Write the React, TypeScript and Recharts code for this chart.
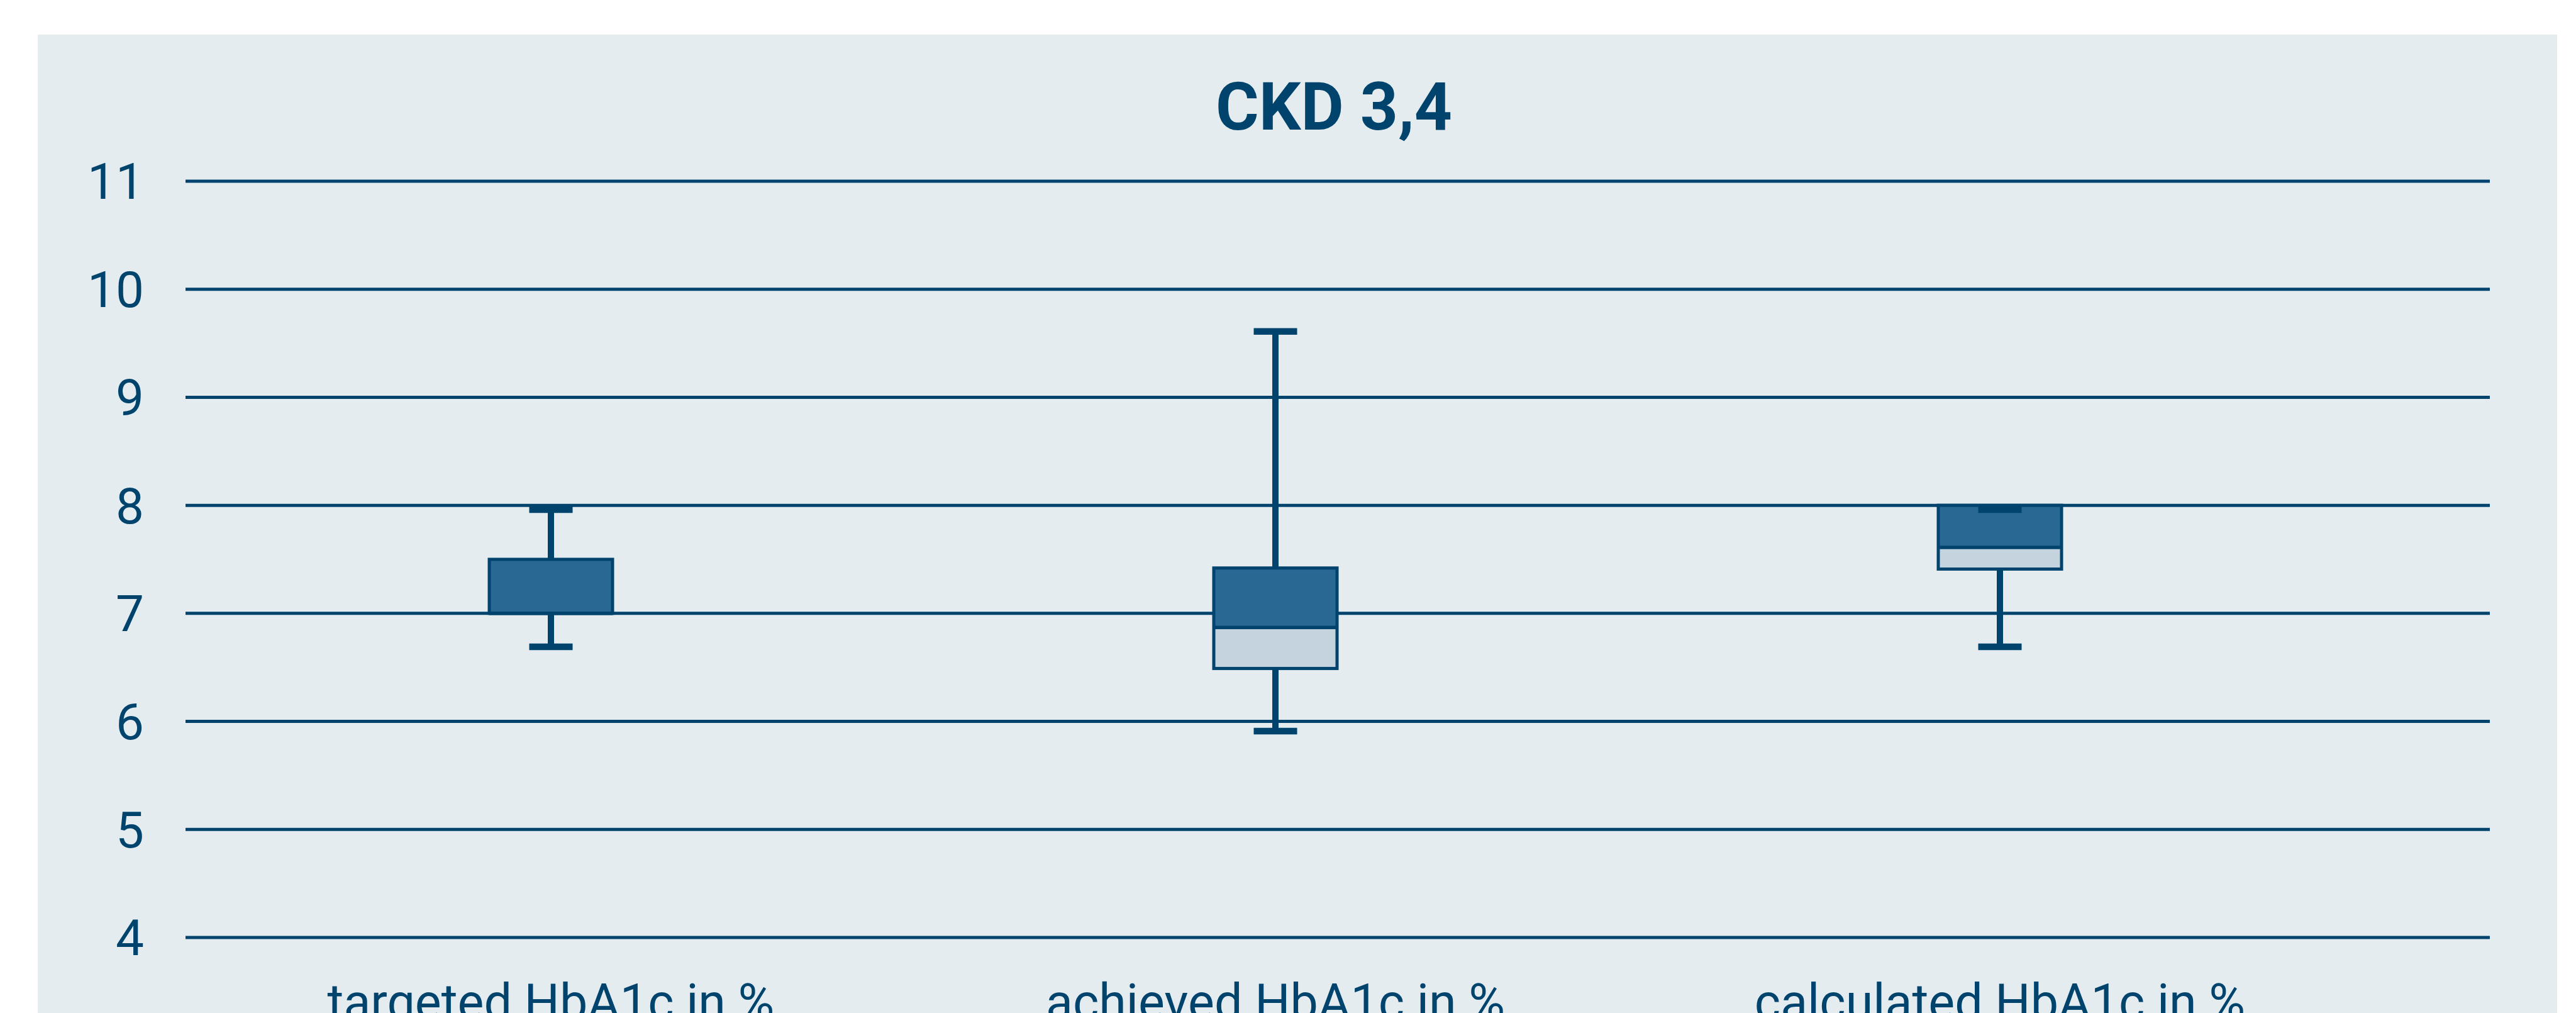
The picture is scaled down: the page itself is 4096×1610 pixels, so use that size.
import { BarChart, Bar, XAxis, YAxis, CartesianGrid } from 'recharts'

// HbA1c box plots, CKD stage 3/4
const title = 'CKD 3,4'
const categories = ['targeted HbA1c in %', 'achieved HbA1c in %', 'calculated HbA1c in %']
const whiskerLow = [6.69, 5.91, 6.69]
const quartile1 = [7.0, 6.49, 7.41]
const medians = [7.0, 6.87, 7.61]
const quartile3 = [7.5, 7.42, 8.0]
const whiskerHigh = [7.96, 9.61, 7.96]
const yTicks = [4, 5, 6, 7, 8, 9, 10, 11]

const INK = '#00446e'
const DARK = '#2a6894'
const LIGHT = '#c5d3df'
const PANEL = '#e4ecf0'
const FONT = 'Roboto, "Liberation Sans", Arial, sans-serif'

const data = categories.map((name, i) => ({
  name,
  min: whiskerLow[i],
  q1: quartile1[i],
  median: medians[i],
  q3: quartile3[i],
  max: whiskerHigh[i],
}))

// the bar spans min..max; the other stats are placed on the same linear scale
function BoxShape(props: any) {
  const { x, y, width, height, payload } = props
  if (!payload) return null
  const top = Math.min(y, y + height)
  const bottom = Math.max(y, y + height)
  const lo = payload.min
  const hi = payload.max
  const py = (v: number) => bottom - ((v - lo) / (hi - lo)) * (bottom - top)
  const cx = x + width / 2
  const capHalf = 34.5
  const yQ3 = py(payload.q3)
  const yMed = py(payload.median)
  const yQ1 = py(payload.q1)
  return (
    <g>
      <line x1={cx} x2={cx} y1={py(hi)} y2={py(lo)} stroke={INK} strokeWidth={10} />
      <rect x={x} y={yQ3} width={width} height={yMed - yQ3} fill={DARK} />
      <rect x={x} y={yMed} width={width} height={yQ1 - yMed} fill={LIGHT} />
      <rect x={x} y={yQ3} width={width} height={yQ1 - yQ3} fill="none" stroke={INK} strokeWidth={5} />
      <line x1={x} x2={x + width} y1={yMed} y2={yMed} stroke={INK} strokeWidth={5.5} />
      <line x1={cx - capHalf} x2={cx + capHalf} y1={py(hi)} y2={py(hi)} stroke={INK} strokeWidth={10.5} />
      <line x1={cx - capHalf} x2={cx + capHalf} y1={py(lo)} y2={py(lo)} stroke={INK} strokeWidth={10.5} />
    </g>
  )
}

export default function App() {
  return (
    <div style={{ position: 'absolute', left: 0, top: 0, width: 4096, height: 1610, background: '#fff', overflow: 'hidden' }}>
      <div style={{ position: 'absolute', left: 60, top: 55, width: 4006, height: 1555, background: PANEL }} />
      <svg style={{ position: 'absolute', left: 0, top: 0 }} width={4096} height={300}>
        <text x={2121} y={206} textAnchor="middle" fill={INK} fontFamily={FONT} fontWeight={700} fontSize={105}>
          {title}
        </text>
      </svg>
      <div style={{ position: 'absolute', left: 0, top: 0 }}>
        <BarChart
          width={4096}
          height={1610}
          data={data}
          margin={{ top: 288, right: 137, bottom: 0, left: 0 }}
        >
          <CartesianGrid horizontal vertical={false} stroke={INK} strokeWidth={5} />
          <XAxis
            dataKey="name"
            height={120}
            padding={{ left: 5, right: 203 }}
            axisLine={false}
            tickLine={false}
            tickSize={0}
            tickMargin={74}
            interval={0}
            tick={{ fill: INK, fontSize: 79, fontFamily: FONT }}
          />
          <YAxis
            type="number"
            domain={[4, 11]}
            ticks={yTicks}
            width={295}
            axisLine={false}
            tickLine={false}
            tickSize={0}
            tickMargin={66}
            tick={{ fill: INK, fontSize: 80, fontFamily: FONT }}
          />
          <Bar
            dataKey={(d: any) => [d.min, d.max]}
            barSize={196}
            shape={<BoxShape />}
            isAnimationActive={false}
          />
        </BarChart>
      </div>
    </div>
  )
}
